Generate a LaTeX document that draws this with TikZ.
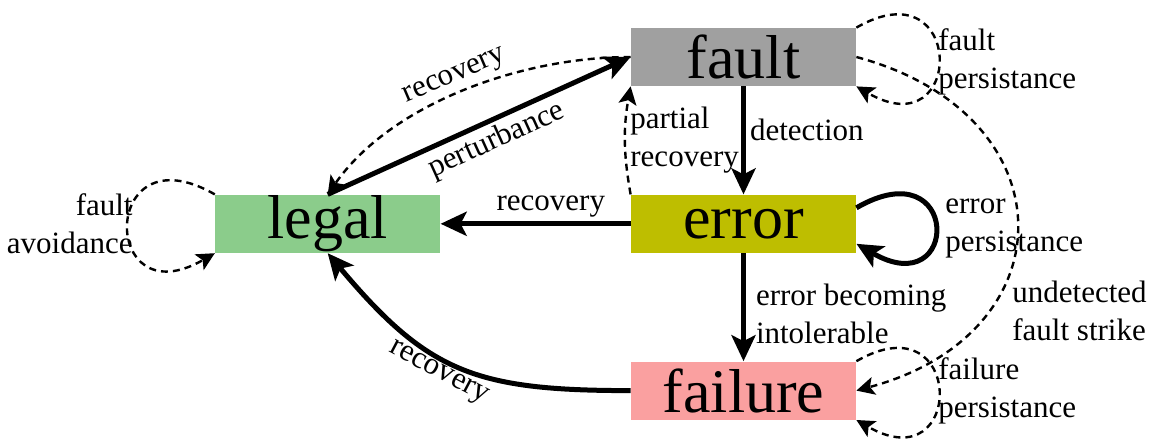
\documentclass[tikz,border=0pt]{standalone}
\usepackage{fontspec}
\setmainfont{Liberation Serif}
\usetikzlibrary{arrows.meta, positioning}
\definecolor{faultgray}{RGB}{160, 160, 160}
\definecolor{errorolive}{RGB}{190, 190, 0}
\definecolor{legalgreen}{RGB}{139, 204, 139}
\definecolor{failurepink}{RGB}{250, 160, 160}

\begin{document}
\begin{tikzpicture}[
    x=0.5pt, y=0.5pt,
    node distance=54pt and 95pt,
    every node/.style={font=\fontsize{15.5}{19}\selectfont, align=left, inner sep=2pt},
    statebox/.style={minimum width=112.5pt, minimum height=29pt, inner sep=0pt, font=\fontsize{31}{36}\selectfont},
    arr/.style={-{Stealth[length=13pt, width=12pt, inset=3pt]}, line width=2.5pt},
    dashedarr/.style={-{Stealth[length=9pt, width=9pt, inset=2pt]}, dash pattern=on 3.5pt off 2.5pt, line width=1.2pt}
]
\useasboundingbox (0,0) rectangle (1151,440);

% States
\node[statebox, fill=faultgray] (fault) at (743.5,383) {fault};
\node[statebox, fill=errorolive, below=of fault] (error) {error};
\node[statebox, fill=failurepink, below=of error] (failure) {failure};
\node[statebox, fill=legalgreen, left=of error] (legal) {legal};

% Main transitions
\draw[arr] (fault) -- node[pos=0.4, right] (detect) {detection} (error);
\draw[arr] (error) -- node[pos=0.42, above] (rec1) {recovery} (legal);
\draw[arr] (error) -- node[pos=0.56, right, xshift=3pt] (intol) {error becoming\\intolerable} (failure);
\draw[arr] (failure.west) to[out=180, in=-50, looseness=1.2] node[pos=0.55, sloped, below, inner sep=1pt] (rec2) {recovery} (legal.south);
\draw[arr] (legal.north) -- node[pos=0.53, sloped, below] (perturb) {perturbance} (fault.west);

% Dashed transitions
\draw[dashedarr] (fault.west) to[out=180, in=55, looseness=0.85] node[pos=0.5, sloped, above] (rec3) {recovery} (legal.north);
\draw[dashedarr] (error.north west) to[bend left=10] (fault.south west);
\node[anchor=west] (partial) at (626,300) {partial\\recovery};
\draw[dashedarr] (fault.east) to[out=-15, in=15, looseness=1.7] (failure.east);
\node[anchor=west] (undetected) at (1008,129) {undetected\\fault strike};

% Self loops
\draw[dashedarr] (fault.north east) to[out=30, in=-30, looseness=5.5] (fault.south east);
\node[anchor=west] (faultpers) at (934,378) {fault\\persistance};
\draw[arr] ([yshift=8pt]error.east) to[out=30, in=-30, looseness=8.6] ([yshift=-10pt]error.east);
\node[anchor=west] (errorpers) at (941,212) {error\\persistance};
\draw[dashedarr] (failure.north east) to[out=30, in=-30, looseness=5.5] (failure.south east);
\node[anchor=west] (failpers) at (934,49) {failure\\persistance};
\draw[dashedarr] (legal.north west) to[out=150, in=210, looseness=5.8] (legal.south west);
\node[anchor=east, align=right] (avoid) at (137,216) {fault\\avoidance};

\end{tikzpicture}
\end{document}
